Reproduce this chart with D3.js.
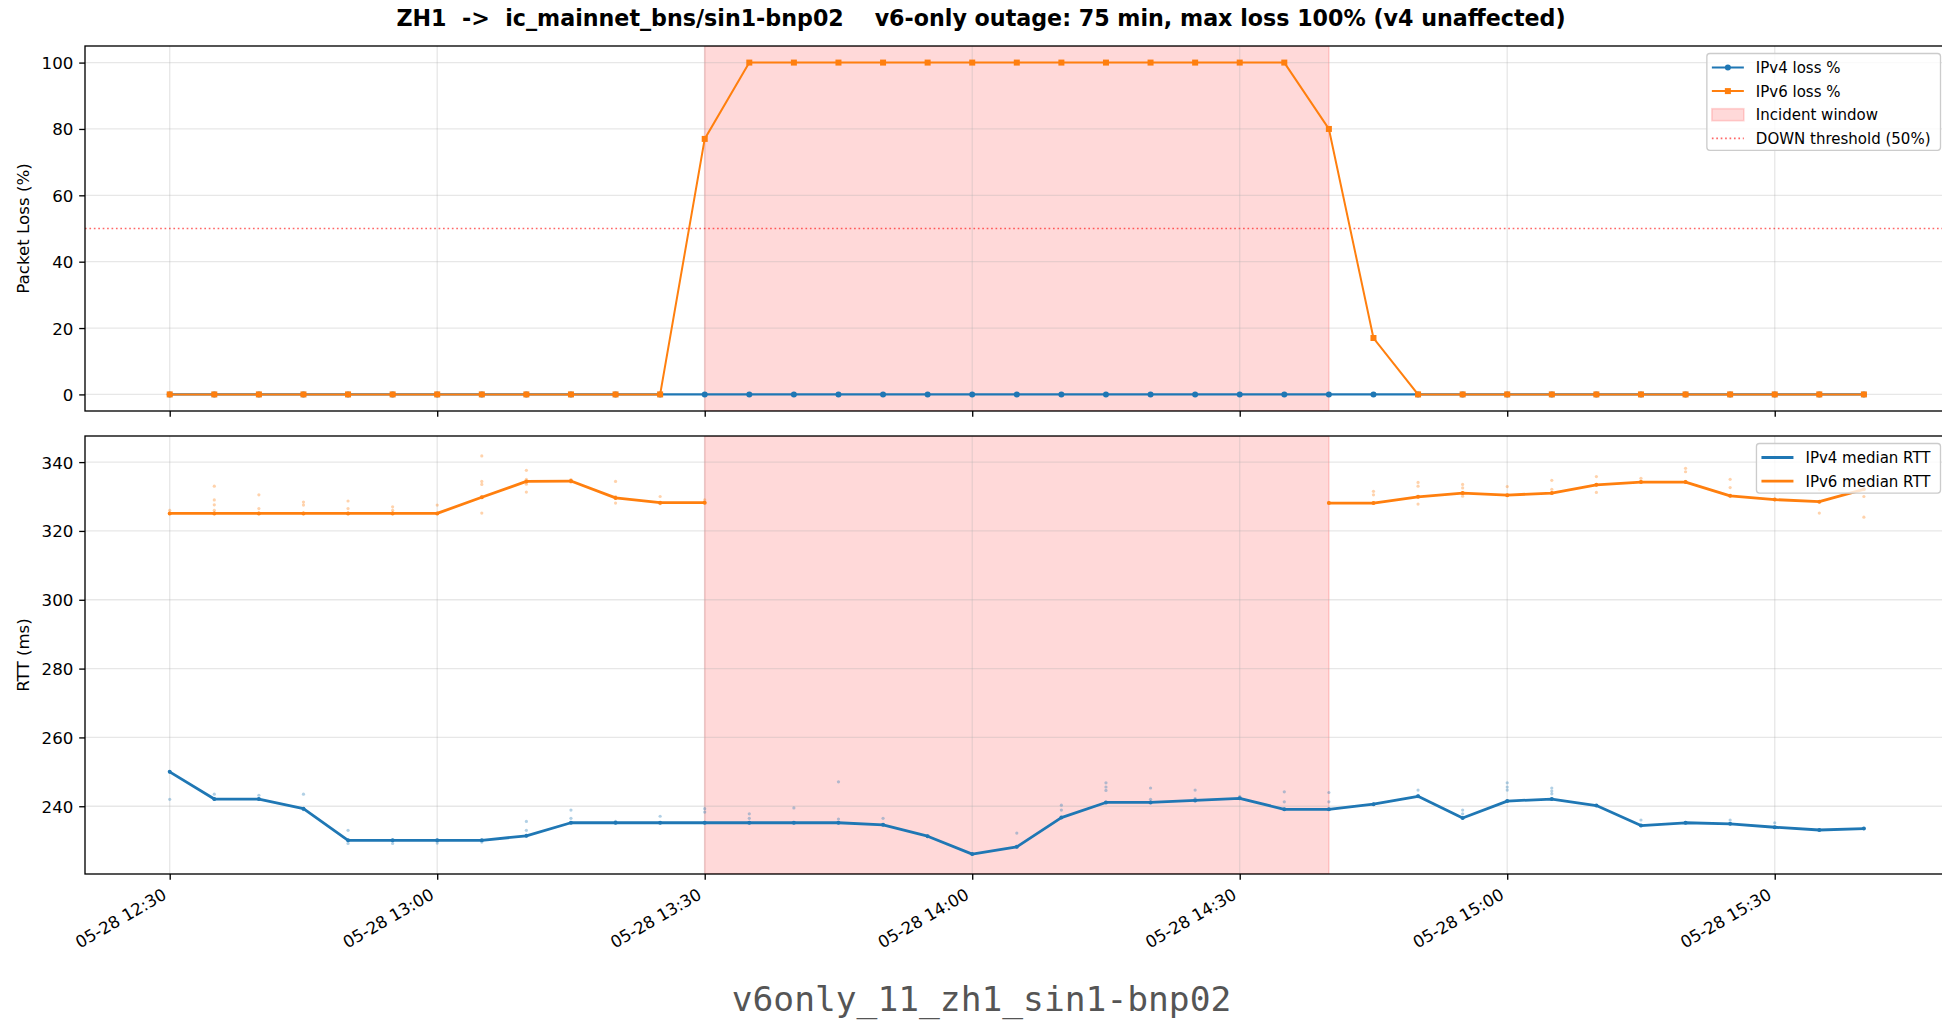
<!DOCTYPE html>
<html>
<head>
<meta charset="utf-8">
<script src="https://cdn.jsdelivr.net/npm/d3@7"></script>
<style>
  html, body { margin: 0; padding: 0; background: #fff; }
  svg { display: block; font-family: "DejaVu Sans", sans-serif; }
</style>
</head>
<body>
<svg id="chart" width="1942" height="1020"></svg>
<script>
// ---- data: 5-minute probe buckets, 2025-05-28 ----
const day = "2025-05-28";
const times = ["12:30","12:35","12:40","12:45","12:50","12:55","13:00","13:05","13:10","13:15",
               "13:20","13:25","13:30","13:35","13:40","13:45","13:50","13:55","14:00","14:05",
               "14:10","14:15","14:20","14:25","14:30","14:35","14:40","14:45","14:50","14:55",
               "15:00","15:05","15:10","15:15","15:20","15:25","15:30","15:35","15:40"];

const v4Loss = [0,0,0,0,0,0,0,0,0,0, 0,0,0,0,0,0,0,0,0,0, 0,0,0,0,0,0,0,0,0,0, 0,0,0,0,0,0,0,0,0];
const v6Loss = [0,0,0,0,0,0,0,0,0,0, 0,0,77,100,100,100,100,100,100,100,
                100,100,100,100,100,100,80,17,0,0, 0,0,0,0,0,0,0,0,0];

const v4Rtt = [250.0,242.1,242.1,239.3,230.1,230.1,230.1,230.1,231.4,235.2,
               235.2,235.2,235.2,235.2,235.2,235.2,234.6,231.3,226.1,228.2,
               236.7,241.1,241.1,241.7,242.3,239.1,239.1,240.6,242.9,236.6,
               241.5,242.1,240.2,234.4,235.2,234.9,233.9,233.1,233.5];
const v6Rtt = [325.1,325.1,325.1,325.1,325.1,325.1,325.1,329.8,334.4,334.5,
               329.6,328.2,328.2,null,null,null,null,null,null,null,
               null,null,null,null,null,null,328.1,328.1,329.9,331.0,
               330.4,331.0,333.4,334.2,334.2,330.2,329.1,328.5,332.1];

// individual probe samples per bucket
const v4Samples = [
  [250.0,242.0],[243.5,242.1,242.0],[243.2,242.1,242.0],[243.5,239.3,239.0],[233.0,230.1,229.2],
  [230.1,229.2],[230.1,229.3],[230.1,229.6],[235.6,233.0,231.4],[238.9,236.5,235.2],
  [235.6,235.2],[237.1,235.2],[239.3,238.3,235.2],[237.8,236.5,235.2],[239.5,235.2],
  [247.1,236.3,235.2],[236.5,234.6],[231.3],[226.1],[232.2,228.2],
  [240.3,238.9,236.7],[246.8,245.6,244.6,241.1],[245.3,242.0,241.1],[244.7,242.2,241.7],[242.8,242.3],
  [244.2,241.3,239.1],[244.0,241.3,239.1],[240.6],[244.7,243.2,242.9],[238.9,237.8,236.6],
  [246.8,245.6,244.7,241.5],[245.3,244.4,243.6,242.1],[240.2],[236.0,234.4],[235.2],
  [236.0,234.9],[235.2,233.9],[233.1],[233.5]
];
const v6Samples = [
  [326.0,325.1],[333.0,329.0,327.6,326.0,325.1],[330.5,326.5,325.1],[328.4,327.5,325.1],[328.7,326.5,325.1],
  [327.0,326.0,325.1],[327.5,325.1],[341.8,334.4,333.5,329.8,325.2],[337.6,335.0,334.4,333.6,331.3],[334.9,334.2],
  [334.4,330.0,328.1],[330.0,327.9],[329.0,328.2],[],[],
  [],[],[],[],[],
  [],[],[],[],[],
  [],[328.3],[331.5,330.5,328.1],[334.1,333.0,329.9,327.8],[333.5,332.5,331.0,330.1],
  [332.9,330.4],[334.7,332.1,331.0],[335.8,333.4,331.2],[335.3,334.4,334.2],[338.2,337.2,334.4],
  [335.0,332.6,330.2],[329.1],[332.0,328.5,325.2],[332.1,330.0,324.0]
];

const incident = ["13:30", "14:40"];
const downThreshold = 50;
const lossTicks = [0, 20, 40, 60, 80, 100];
const rttTicks = [240, 260, 280, 300, 320, 340];

const titleText = "ZH1  ->  ic_mainnet_bns/sin1-bnp02    v6-only outage: 75 min, max loss 100% (v4 unaffected)";
const captionText = "v6only_11_zh1_sin1-bnp02";

// ---- layout ----
const C4 = "#1f77b4", C6 = "#ff7f0e";
const FS = 16.67;
const plotL = 85, plotR = 1948.6;
const lossBox = [46, 411];
const rttBox = [436, 874];

const parse = d3.timeParse("%Y-%m-%d %H:%M");
const tt = times.map(s => parse(day + " " + s));
const [t0, t1] = d3.extent(tt);
const tPad = 0.05 * (t1 - t0);
const x = d3.scaleTime()
  .domain([new Date(+t0 - tPad), new Date(+t1 + tPad)])
  .range([plotL, plotR]);
const xTicks = x.ticks(d3.timeMinute.every(30));
const fmt = d3.timeFormat("%m-%d %H:%M");

function padded(lo, hi) { const p = 0.05 * (hi - lo); return [lo - p, hi + p]; }

const yLoss = d3.scaleLinear()
  .domain(padded(d3.min([...v4Loss, ...v6Loss]), d3.max([...v4Loss, ...v6Loss])))
  .range([lossBox[1], lossBox[0]]);
const rttAll = [...v4Rtt, ...v6Rtt.filter(v => v != null), ...v4Samples.flat(), ...v6Samples.flat()];
const yRtt = d3.scaleLinear()
  .domain(padded(d3.min(rttAll), d3.max(rttAll)))
  .range([rttBox[1], rttBox[0]]);

const svg = d3.select("#chart");
svg.append("rect").attr("width", 1942).attr("height", 1020).attr("fill", "#fff");

function clipFor(name, box) {
  svg.append("clipPath").attr("id", name)
    .append("rect").attr("x", plotL).attr("y", box[0])
    .attr("width", plotR - plotL).attr("height", box[1] - box[0]);
  return "url(#" + name + ")";
}

function panelBase(box, y, ticks, clip) {
  const g = svg.append("g");
  const inner = g.append("g").attr("clip-path", clip);
  // incident window
  const xa = x(parse(day + " " + incident[0])), xb = x(parse(day + " " + incident[1]));
  inner.append("rect")
    .attr("x", xa).attr("y", box[0]).attr("width", xb - xa).attr("height", box[1] - box[0])
    .attr("fill", "red").attr("fill-opacity", 0.15)
    .attr("stroke", "red").attr("stroke-opacity", 0.15).attr("stroke-width", 1.67);
  // grid
  inner.append("g").selectAll("line").data(xTicks).join("line")
    .attr("x1", d => x(d)).attr("x2", d => x(d)).attr("y1", box[0]).attr("y2", box[1])
    .attr("stroke", "#b0b0b0").attr("stroke-opacity", 0.3).attr("stroke-width", 1.33);
  inner.append("g").selectAll("line").data(ticks).join("line")
    .attr("x1", plotL).attr("x2", plotR).attr("y1", d => y(d)).attr("y2", d => y(d))
    .attr("stroke", "#b0b0b0").attr("stroke-opacity", 0.3).attr("stroke-width", 1.33);
  return { g, inner };
}

function axes(g, box, y, ticks, showXLabels) {
  const ya = g.append("g").attr("transform", `translate(${plotL},0)`)
    .call(d3.axisLeft(y).tickValues(ticks).tickSize(5.8).tickPadding(5.8).tickFormat(d3.format("d")));
  ya.select(".domain").remove();
  ya.selectAll("line").attr("stroke", "#000").attr("stroke-width", 1.33);
  ya.selectAll("text").attr("font-size", FS).attr("fill", "#000")
    .attr("font-family", "DejaVu Sans").attr("dy", "0.36em");

  const xa = g.append("g").attr("transform", `translate(0,${box[1]})`)
    .call(d3.axisBottom(x).tickValues(xTicks).tickSize(5.8).tickPadding(5.8).tickFormat(fmt));
  xa.select(".domain").remove();
  xa.selectAll("line").attr("stroke", "#000").attr("stroke-width", 1.33);
  if (showXLabels) {
    xa.selectAll("text")
      .attr("font-size", FS).attr("fill", "#000").attr("font-family", "DejaVu Sans")
      .attr("text-anchor", "end").attr("x", null).attr("y", null).attr("dy", null)
      .attr("transform", "translate(-2.5,24) rotate(-30)");
  } else {
    xa.selectAll("text").remove();
  }
  // frame
  g.append("rect").attr("x", plotL).attr("y", box[0])
    .attr("width", plotR - plotL).attr("height", box[1] - box[0])
    .attr("fill", "none").attr("stroke", "#000").attr("stroke-width", 1.33);
}

function legend(g, box, items) {
  const fs = 15, rowH = 23.6;
  const lg = g.append("g");
  const frame = lg.append("rect");
  const texts = [];
  const top = box[0] + 7.5;
  items.forEach((it, i) => {
    const cy = top + 14 + i * rowH;
    const t = lg.append("text").attr("y", cy).attr("dy", "0.36em")
      .attr("font-size", fs).attr("fill", "#000").text(it.label);
    texts.push({ t, cy, it });
  });
  const tw = d3.max(texts, d => d.t.node().getComputedTextLength());
  const w = 49 + tw + 10;
  const left = 1940.5 - w;
  const h = 14 + (items.length - 1) * rowH + 12;
  frame.attr("x", left).attr("y", top).attr("width", w).attr("height", h)
    .attr("rx", 3).attr("fill", "#fff").attr("fill-opacity", 0.8)
    .attr("stroke", "#cccccc").attr("stroke-width", 1.33);
  frame.lower();
  texts.forEach(({ t, cy, it }) => {
    t.attr("x", left + 49);
    const hx0 = left + 5, hx1 = left + 37;
    if (it.kind === "patch") {
      lg.append("rect").attr("x", hx0).attr("y", cy - 6).attr("width", hx1 - hx0).attr("height", 12)
        .attr("fill", "red").attr("fill-opacity", 0.15)
        .attr("stroke", "red").attr("stroke-opacity", 0.15).attr("stroke-width", 1.67);
    } else {
      lg.append("line").attr("x1", hx0).attr("x2", hx1).attr("y1", cy).attr("y2", cy)
        .attr("stroke", it.color).attr("stroke-width", it.width)
        .attr("stroke-opacity", it.opacity || 1)
        .attr("stroke-dasharray", it.dash || null);
      const mx = (hx0 + hx1) / 2;
      if (it.marker === "circle") {
        lg.append("circle").attr("cx", mx).attr("cy", cy).attr("r", 3).attr("fill", it.color);
      } else if (it.marker === "square") {
        lg.append("rect").attr("x", mx - 3).attr("y", cy - 3).attr("width", 6).attr("height", 6).attr("fill", it.color);
      }
    }
  });
}

// ---- loss panel ----
const clipLoss = clipFor("clipLoss", lossBox);
const pLoss = panelBase(lossBox, yLoss, lossTicks, clipLoss);
pLoss.inner.append("line")
  .attr("x1", plotL).attr("x2", plotR).attr("y1", yLoss(downThreshold)).attr("y2", yLoss(downThreshold))
  .attr("stroke", "red").attr("stroke-opacity", 0.6).attr("stroke-width", 1.67)
  .attr("stroke-dasharray", "1.67,2.75");

const lossLine = d3.line().x((d, i) => x(tt[i])).y(d => yLoss(d));
pLoss.inner.append("path").datum(v4Loss).attr("d", lossLine)
  .attr("fill", "none").attr("stroke", C4).attr("stroke-width", 2.2);
pLoss.inner.append("g").selectAll("circle").data(v4Loss).join("circle")
  .attr("cx", (d, i) => x(tt[i])).attr("cy", d => yLoss(d)).attr("r", 3).attr("fill", C4);
pLoss.inner.append("path").datum(v6Loss).attr("d", lossLine)
  .attr("fill", "none").attr("stroke", C6).attr("stroke-width", 2.0);
pLoss.inner.append("g").selectAll("rect").data(v6Loss).join("rect")
  .attr("x", (d, i) => x(tt[i]) - 3).attr("y", d => yLoss(d) - 3)
  .attr("width", 6).attr("height", 6).attr("fill", C6);
axes(pLoss.g, lossBox, yLoss, lossTicks, false);
legend(pLoss.g, lossBox, [
  { label: "IPv4 loss %", color: C4, width: 2.2, marker: "circle" },
  { label: "IPv6 loss %", color: C6, width: 2.0, marker: "square" },
  { label: "Incident window", kind: "patch" },
  { label: "DOWN threshold (50%)", color: "red", width: 1.67, opacity: 0.6, dash: "1.67,2.75" }
]);

// ---- RTT panel ----
const clipRtt = clipFor("clipRtt", rttBox);
const pRtt = panelBase(rttBox, yRtt, rttTicks, clipRtt);

function samplePts(samples) {
  const pts = [];
  samples.forEach((vals, i) => vals.forEach(v => pts.push([tt[i], v])));
  return pts;
}
pRtt.inner.append("g").selectAll("circle").data(samplePts(v4Samples)).join("circle")
  .attr("cx", d => x(d[0])).attr("cy", d => yRtt(d[1])).attr("r", 1.6)
  .attr("fill", C4).attr("fill-opacity", 0.35);
pRtt.inner.append("g").selectAll("circle").data(samplePts(v6Samples)).join("circle")
  .attr("cx", d => x(d[0])).attr("cy", d => yRtt(d[1])).attr("r", 1.6)
  .attr("fill", C6).attr("fill-opacity", 0.35);

const rttLine = d3.line().defined(d => d != null).x((d, i) => x(tt[i])).y(d => yRtt(d));
[[v4Rtt, C4], [v6Rtt, C6]].forEach(([vals, c]) => {
  pRtt.inner.append("path").datum(vals).attr("d", rttLine)
    .attr("fill", "none").attr("stroke", c).attr("stroke-width", 2.8).attr("stroke-linejoin", "round");
  pRtt.inner.append("g").selectAll("circle")
    .data(vals.map((v, i) => [i, v]).filter(d => d[1] != null)).join("circle")
    .attr("cx", d => x(tt[d[0]])).attr("cy", d => yRtt(d[1])).attr("r", 2).attr("fill", c);
});
axes(pRtt.g, rttBox, yRtt, rttTicks, true);
legend(pRtt.g, rttBox, [
  { label: "IPv4 median RTT", color: C4, width: 2.8 },
  { label: "IPv6 median RTT", color: C6, width: 2.8 }
]);

// ---- labels ----
svg.append("text").attr("x", 981).attr("y", 26).attr("text-anchor", "middle")
  .attr("font-size", 22.2).attr("font-weight", "bold").attr("fill", "#000")
  .style("white-space", "pre").attr("xml:space", "preserve").text(titleText);

svg.append("text").attr("transform", `translate(28.5,${(lossBox[0] + lossBox[1]) / 2}) rotate(-90)`)
  .attr("text-anchor", "middle").attr("font-size", FS).attr("fill", "#000").text("Packet Loss (%)");
svg.append("text").attr("transform", `translate(28.5,${(rttBox[0] + rttBox[1]) / 2}) rotate(-90)`)
  .attr("text-anchor", "middle").attr("font-size", FS).attr("fill", "#000").text("RTT (ms)");

svg.append("text").attr("x", 981.5).attr("y", 1011).attr("text-anchor", "middle")
  .attr("font-family", "DejaVu Sans Mono").attr("font-size", 34.6).attr("fill", "#555")
  .text(captionText);
</script>
</body>
</html>
